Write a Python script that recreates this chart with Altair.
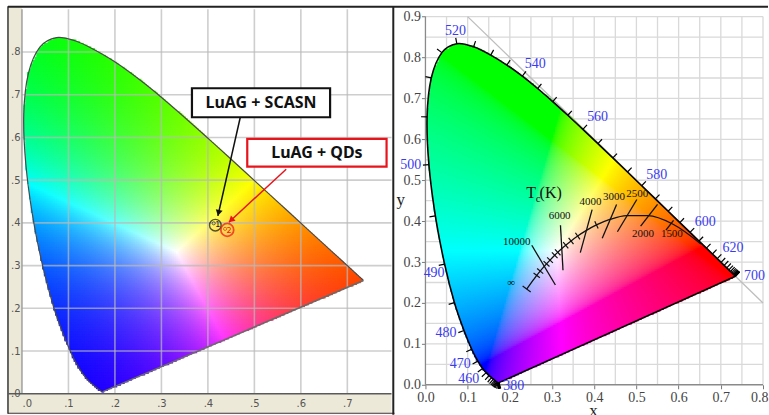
import numpy as np
import pandas as pd
import altair as alt

# ---------------------------------------------------------------- data
# CIE 1931 2-degree spectral locus, 5 nm steps
wavelength = list(range(380, 705, 5))
locus_x = [0.1741, 0.1740, 0.1738, 0.1736, 0.1733, 0.1730, 0.1726, 0.1721, 0.1714, 0.1703,
           0.1689, 0.1669, 0.1644, 0.1611, 0.1566, 0.1510, 0.1440, 0.1355, 0.1241, 0.1096,
           0.0913, 0.0687, 0.0454, 0.0235, 0.0082, 0.0039, 0.0139, 0.0389, 0.0743, 0.1142,
           0.1547, 0.1929, 0.2296, 0.2658, 0.3016, 0.3373, 0.3731, 0.4087, 0.4441, 0.4788,
           0.5125, 0.5448, 0.5752, 0.6029, 0.6270, 0.6482, 0.6658, 0.6801, 0.6915, 0.7006,
           0.7079, 0.7140, 0.7190, 0.7230, 0.7260, 0.7283, 0.7300, 0.7311, 0.7320, 0.7327,
           0.7334, 0.7340, 0.7344, 0.7346, 0.7347]
locus_y = [0.0050, 0.0050, 0.0049, 0.0049, 0.0048, 0.0048, 0.0048, 0.0048, 0.0051, 0.0058,
           0.0069, 0.0086, 0.0109, 0.0138, 0.0177, 0.0227, 0.0297, 0.0399, 0.0578, 0.0868,
           0.1327, 0.2007, 0.2950, 0.4127, 0.5384, 0.6548, 0.7502, 0.8120, 0.8338, 0.8262,
           0.8059, 0.7816, 0.7543, 0.7243, 0.6923, 0.6589, 0.6245, 0.5896, 0.5547, 0.5202,
           0.4866, 0.4544, 0.4242, 0.3965, 0.3725, 0.3514, 0.3340, 0.3197, 0.3083, 0.2993,
           0.2920, 0.2859, 0.2809, 0.2770, 0.2740, 0.2717, 0.2700, 0.2689, 0.2680, 0.2673,
           0.2666, 0.2660, 0.2656, 0.2654, 0.2653]

# labelled wavelengths on the right diagram
wl_label = ["380", "460", "470", "480", "490", "500", "520", "540", "560", "580", "600", "620", "700"]
wl_label_x = [0.209, 0.1025, 0.0824, 0.0488, 0.0205, -0.035, 0.0714, 0.260, 0.408, 0.548, 0.663, 0.729, 0.780]
wl_label_y = [-0.002, 0.0146, 0.0505, 0.126, 0.274, 0.537, 0.866, 0.783, 0.654, 0.512, 0.398, 0.335, 0.266]

# Planckian locus (K, x, y); the last point is T = infinity
planck_T = [1000, 1500, 2000, 2500, 3000, 3500, 4000, 4500, 5000, 5500, 6000, 6500, 7000,
            8000, 9000, 10000, 12000, 15000, 20000, 100000]
planck_x = [0.6528, 0.5857, 0.5267, 0.4770, 0.4369, 0.4053, 0.3805, 0.3608, 0.3451, 0.3325,
            0.3221, 0.3135, 0.3064, 0.2952, 0.2869, 0.2807, 0.2719, 0.2637, 0.2565, 0.2399]
planck_y = [0.3444, 0.3931, 0.4133, 0.4137, 0.4041, 0.3907, 0.3768, 0.3636, 0.3516, 0.3411,
            0.3318, 0.3237, 0.3166, 0.3048, 0.2956, 0.2884, 0.2779, 0.2674, 0.2574, 0.2340]
minor_T = [3500, 4500, 5000, 5500, 6500, 7000, 8000, 9000, 12000, 15000]

# isotherms crossing the Planckian locus
iso_label = ["10000", "6000", "4000", "3000", "2500", "2000", "1500"]
iso_x1 = [0.252, 0.320, 0.395, 0.453, 0.501, 0.550, 0.588]
iso_y1 = [0.341, 0.390, 0.428, 0.441, 0.453, 0.441, 0.402]
iso_x2 = [0.308, 0.326, 0.367, 0.419, 0.455, 0.510, 0.570]
iso_y2 = [0.244, 0.280, 0.323, 0.358, 0.374, 0.388, 0.378]
iso_text_x = [0.2164, 0.318, 0.391, 0.4468, 0.502, 0.5157, 0.584]
iso_text_y = [0.3495, 0.412, 0.4456, 0.459, 0.4675, 0.3675, 0.3675]

# measured white LEDs
sample_id = ["1", "2"]
sample_name = ["LuAG + SCASN", "LuAG + QDs"]
sample_x = [0.4125, 0.4370]
sample_y = [0.3990, 0.3860]
sample_color = ["#111111", "#e8141c"]

# ---------------------------------------------------------------- layout
LW, LH = 370, 385
LXD, LYD = [0, 0.795], [0, 0.9]
RW, RH = 338, 376
RXD, RYD = [0, 0.8], [0, 0.918]
lsx, lsy = LW / LXD[1], LH / LYD[1]
rsx, rsy = RW / RXD[1], RH / RYD[1]

SERIF = "Liberation Serif"
BLUE = "#3a3af0"


def inside(px, py, vx, vy):
    vx = np.asarray(vx)
    vy = np.asarray(vy)
    res = np.zeros(px.shape, dtype=bool)
    for i in range(len(vx)):
        j = i - 1
        xi, yi, xj, yj = vx[i], vy[i], vx[j], vy[j]
        if yi == yj:
            continue
        cross = (yi > py) != (yj > py)
        xint = xi + (py - yi) * (xj - xi) / (yj - yi)
        res ^= cross & (px < xint)
    return res


def to_hex(v):
    v = np.clip(np.round(v * 255), 0, 255).astype(int)
    return ["#%02x%02x%02x" % tuple(c) for c in v]


def tone_left(x, y):
    v = np.stack([x, y, 1 - x - y], axis=1)
    v = np.clip(v, 0, None)
    v = v / v.max(axis=1, keepdims=True)
    return to_hex(v ** 1.3)


M = np.array([[3.2406, -1.5372, -0.4986],
              [-0.9689, 1.8758, 0.0415],
              [0.0557, -0.2040, 1.0570]])


def tone_right(x, y):
    xyz = np.stack([x / y, np.ones_like(x), (1 - x - y) / y], axis=1)
    rgb = np.clip(xyz @ M.T, 0, None)
    rgb = rgb / rgb.max(axis=1, keepdims=True)
    rgb = np.where(rgb <= 0.0031308, 12.92 * rgb, 1.055 * rgb ** (1 / 2.4) - 0.055)
    return to_hex(rgb)


def cell_table(step, tone):
    gx, gy = np.meshgrid(np.arange(step / 2, 0.76, step), np.arange(step / 2, 0.85, step))
    gx, gy = gx.ravel(), gy.ravel()
    keep = inside(gx, gy, locus_x, locus_y)
    gx, gy = gx[keep], gy[keep]
    return pd.DataFrame({"x": np.round(gx, 4), "y": np.round(gy, 4), "c": tone(gx, gy)})


one = pd.DataFrame({"k": [0]})


def px_rect(x1, x2, y1, y2, color):
    return alt.Chart(one).mark_rect(color=color, clip=False).encode(
        x=alt.value(x1), x2=alt.value(x2), y=alt.value(y1), y2=alt.value(y2))


def px_rule(x1, x2, y1, y2, color, w):
    return alt.Chart(one).mark_rule(color=color, strokeWidth=w, clip=False).encode(
        x=alt.value(x1), x2=alt.value(x2), y=alt.value(y1), y2=alt.value(y2))


locus_df = pd.DataFrame({"wl": wavelength, "x": locus_x, "y": locus_y, "o": range(len(wavelength))})
purple_df = pd.DataFrame({"x": [locus_x[0]], "y": [locus_y[0]], "x2": [locus_x[-1]], "y2": [locus_y[-1]]})

# ================================================================ left panel
lab_expr = "replace(format(datum.value, '.1f'), '0.', '.')"
left_xaxis = alt.Axis(values=[i / 10 for i in range(8)], labelExpr=lab_expr, ticks=False, grid=False,
                      domain=False, labelFont="DejaVu Sans", labelFontSize=10, labelColor="#555555",
                      labelPadding=5, title=None, zindex=2)
left_yaxis_spec = alt.Axis(values=[i / 10 for i in range(9)], labelExpr=lab_expr, ticks=False, grid=False,
                           domain=False, labelFont="DejaVu Sans", labelFontSize=10, labelColor="#555555",
                           labelPadding=2, title=None, zindex=2)


def LX(f="x"):
    return alt.X(f"{f}:Q", scale=alt.Scale(domain=LXD, nice=False, zero=False), axis=left_xaxis)


def LY(f="y"):
    return alt.Y(f"{f}:Q", scale=alt.Scale(domain=LYD, nice=False, zero=False), axis=left_yaxis_spec)


left_cells = cell_table(0.004, tone_left)
cell_side = max(0.004 * lsx, 0.004 * lsy) + 0.9
left_fill = alt.Chart(left_cells).mark_square(size=cell_side ** 2, opacity=1, strokeWidth=0).encode(
    x=LX(), y=LY(), color=alt.Color("c:N", scale=None))

lgrid_x = pd.DataFrame({"g": [i / 10 for i in range(1, 8)]})
lgrid_y = pd.DataFrame({"g": [i / 10 for i in range(1, 9)]})
left_vgrid = alt.Chart(lgrid_x).mark_rule(color="#b9b9b9", opacity=0.7, strokeWidth=1.6).encode(x=LX("g"))
left_hgrid = alt.Chart(lgrid_y).mark_rule(color="#b9b9b9", opacity=0.7, strokeWidth=1.6).encode(y=LY("g"))
left_axis0 = alt.Chart(pd.DataFrame({"g": [0.0]})).mark_rule(color="#9a9a9a", strokeWidth=1.4).encode(x=LX("g"))

left_outline = alt.Chart(locus_df).mark_line(color="#4a4a4a", strokeWidth=1.2, interpolate="cardinal").encode(
    x=LX(), y=LY(), order="o:Q")
left_purple = alt.Chart(purple_df).mark_rule(color="#6a6a6a", strokeWidth=1.6).encode(
    x=LX(), y=LY(), x2="x2", y2="y2")

samples = pd.DataFrame({"id": sample_id, "x": sample_x, "y": sample_y, "col": sample_color})
dots = alt.Chart(samples).mark_point(shape="circle", size=10, strokeWidth=0.9, filled=False).encode(
    x=LX(), y=LY(), color=alt.Color("col:N", scale=None))
ring_df = pd.DataFrame({"x": [0.4160, 0.4417], "y": [0.3946, 0.3836], "col": sample_color,
                        "s": [135, 165], "w": [1.4, 1.8]})
rings = alt.Chart(ring_df).mark_point(shape="circle", filled=False).encode(
    x=LX(), y=LY(), color=alt.Color("col:N", scale=None),
    size=alt.Size("s:Q", scale=None), strokeWidth=alt.StrokeWidth("w:Q", scale=None))
dot_ids = alt.Chart(samples).mark_text(fontSize=8, dx=4, dy=2, font="DejaVu Sans").encode(
    x=LX(), y=LY(), text="id:N", color=alt.Color("col:N", scale=None))

# callouts: box extents, label centres and arrow start/end
box_x1 = [0.3657, 0.4847]
box_x2 = [0.6629, 0.7844]
box_y1 = [0.6472, 0.5317]
box_y2 = [0.7151, 0.5965]
arrow_x1 = [0.4697, 0.5684]
arrow_y1 = [0.6472, 0.5256]
arrow_x2 = [0.4215, 0.4451]
arrow_y2 = [0.4164, 0.4016]

heads = []
for i in range(2):
    dxp = (arrow_x2[i] - arrow_x1[i]) * lsx
    dyp = -(arrow_y2[i] - arrow_y1[i]) * lsy
    n = np.hypot(dxp, dyp)
    ux, uy = dxp / n, dyp / n
    ang = (np.degrees(np.arctan2(ux, -uy)) + 360) % 360
    back = 3.0
    heads.append({"x": arrow_x2[i] - ux * back / lsx, "y": arrow_y2[i] + uy * back / lsy,
                  "a": ang, "col": sample_color[i]})
heads = pd.DataFrame(heads)
arrows = pd.DataFrame({"x": arrow_x1, "y": arrow_y1, "x2": arrow_x2, "y2": arrow_y2, "col": sample_color})
arrow_lines = alt.Chart(arrows).mark_rule(strokeWidth=1.5).encode(
    x=LX(), y=LY(), x2="x2", y2="y2", color=alt.Color("col:N", scale=None))
arrow_heads = alt.Chart(heads).mark_point(shape="triangle-up", size=48, filled=True, opacity=1).encode(
    x=LX(), y=LY(), angle=alt.Angle("a:Q", scale=None), color=alt.Color("col:N", scale=None))

boxes = pd.DataFrame({"x": box_x1, "x2": box_x2, "y": box_y1, "y2": box_y2, "col": sample_color,
                      "name": sample_name,
                      "cx": [(a + b) / 2 for a, b in zip(box_x1, box_x2)],
                      "cy": [(a + b) / 2 for a, b in zip(box_y1, box_y2)]})
box_marks = alt.Chart(boxes).mark_rect(fill="white", strokeWidth=2.2, clip=False).encode(
    x=LX(), x2="x2", y=LY(), y2="y2", stroke=alt.Stroke("col:N", scale=None))
box_text = alt.Chart(boxes).mark_text(font="Noto Sans", fontWeight="bold", fontSize=16, color="#111111",
                                      clip=False).encode(
    x=LX("cx"), y=LY("cy"), text="name:N")

left = alt.layer(
    px_rect(-22, 0, -9, 0, "white"),
    px_rect(-13, 0, -2, 404, "#ece9d8"),
    px_rect(-13, LW, LH, 404, "#ece9d8"),
    left_fill, left_vgrid, left_hgrid, left_axis0,
    left_outline, left_purple,
    rings, dots, dot_ids, arrow_lines, arrow_heads, box_marks, box_text,
    px_rule(-14, -14, -3, 405, "#333333", 1.5),
    px_rule(-14, LW, LH, LH, "#5a5a5a", 1.4),
    px_rule(-14, LW + 3, 404.5, 404.5, "#333333", 1.2),
    px_rule(-14, 747, -2.5, -2.5, "#222222", 1.8),
    px_rule(LW + 1.8, LW + 1.8, -3, 406, "#222222", 2),
).properties(width=LW, height=LH)

# ================================================================ right panel
right_xaxis = alt.Axis(values=[i / 10 for i in range(9)], format=".1f", grid=False, domain=False,
                       tickSize=4, tickColor="#777777", labelFont=SERIF, labelFontSize=14,
                       labelColor="#444444", labelPadding=2, title=None,
                       labelAlign={"condition": {"test": "datum.value > 0.79", "value": "right"},
                                   "value": "center"},
                       labelOffset={"condition": {"test": "datum.value > 0.79", "value": 5}, "value": 0})
right_yaxis = alt.Axis(values=[i / 10 for i in range(10)], format=".1f", grid=False, domain=False,
                       tickSize=4, tickColor="#777777", labelFont=SERIF, labelFontSize=14,
                       labelColor="#444444", labelPadding=1, title=None)


def RX(f="x"):
    return alt.X(f"{f}:Q", scale=alt.Scale(domain=RXD, nice=False, zero=False), axis=right_xaxis)


def RY(f="y"):
    return alt.Y(f"{f}:Q", scale=alt.Scale(domain=RYD, nice=False, zero=False), axis=right_yaxis)


rgrid_x = pd.DataFrame({"g": [round(i * 0.05, 2) for i in range(1, 17)], "y": 0.0, "y2": 0.9})
rgrid_y = pd.DataFrame({"g": [round(i * 0.05, 2) for i in range(1, 19)], "x": 0.0, "x2": 0.8})
right_vgrid = alt.Chart(rgrid_x).mark_rule(color="#d9d9d9", strokeWidth=1.3).encode(
    x=RX("g"), y=RY("y"), y2="y2")
right_hgrid = alt.Chart(rgrid_y).mark_rule(color="#d9d9d9", strokeWidth=1.3).encode(
    y=RY("g"), x=RX("x"), x2="x2")
diag = pd.DataFrame({"x": [0.1], "y": [0.9], "x2": [0.8], "y2": [0.2]})
right_diag = alt.Chart(diag).mark_rule(color="#bdbdbd", strokeWidth=1.3).encode(
    x=RX(), y=RY(), x2="x2", y2="y2")
right_axes = pd.DataFrame({"x": [0.0, 0.0], "y": [0.0, 0.0], "x2": [0.0, 0.8], "y2": [0.9, 0.0]})
right_axis_lines = alt.Chart(right_axes).mark_rule(color="#8a8a8a", strokeWidth=1.3).encode(
    x=RX(), y=RY(), x2="x2", y2="y2")

right_cells = cell_table(0.004, tone_right)
rcell_side = max(0.004 * rsx, 0.004 * rsy) + 0.9
right_fill = alt.Chart(right_cells).mark_square(size=rcell_side ** 2, opacity=1, strokeWidth=0).encode(
    x=RX(), y=RY(), color=alt.Color("c:N", scale=None))

right_outline = alt.Chart(locus_df).mark_line(color="black", strokeWidth=1.6, interpolate="cardinal").encode(
    x=RX(), y=RY(), order="o:Q")
right_purple = alt.Chart(purple_df).mark_rule(color="black", strokeWidth=1.4).encode(
    x=RX(), y=RY(), x2="x2", y2="y2")

# outward tick marks every 5 nm along the spectral locus
pxs = np.array(locus_x) * rsx
pys = np.array(locus_y) * rsy
tx, ty = np.gradient(pxs), np.gradient(pys)
nrm = np.hypot(tx, ty) + 1e-9
nx, ny = ty / nrm, -tx / nrm
sgn = np.sign((pxs - 0.33 * rsx) * nx + (pys - 0.33 * rsy) * ny)
nx, ny = nx * sgn, ny * sgn
tick_len = 6.0
wl_ticks = pd.DataFrame({"x": locus_x, "y": locus_y,
                         "x2": np.array(locus_x) + nx * tick_len / rsx,
                         "y2": np.array(locus_y) + ny * tick_len / rsy})
right_ticks = alt.Chart(wl_ticks).mark_rule(color="black", strokeWidth=1.2).encode(
    x=RX(), y=RY(), x2="x2", y2="y2")

wl_text = pd.DataFrame({"t": wl_label, "x": wl_label_x, "y": wl_label_y})
right_wl = alt.Chart(wl_text).mark_text(font=SERIF, fontSize=14, color=BLUE, clip=False).encode(
    x=RX(), y=RY(), text="t:N")

planck_df = pd.DataFrame({"x": planck_x, "y": planck_y})
planck_line = alt.Chart(planck_df).mark_line(color="#111111", strokeWidth=1.3, interpolate="monotone").encode(
    x=RX(), y=RY())

iso_df = pd.DataFrame({"x": iso_x1, "y": iso_y1, "x2": iso_x2, "y2": iso_y2})
iso_lines = alt.Chart(iso_df).mark_rule(color="#111111", strokeWidth=1.3).encode(
    x=RX(), y=RY(), x2="x2", y2="y2")

# short cross ticks on the Planckian locus and the bar closing it at T = infinity
ppx, ppy = np.array(planck_x) * rsx, np.array(planck_y) * rsy
gtx, gty = np.gradient(ppx), np.gradient(ppy)
gn = np.hypot(gtx, gty)
pnx, pny = gty / gn, -gtx / gn
rows = []
for T, hl in [(t, 4.0) for t in minor_T] + [(100000, 5.0)]:
    k = planck_T.index(T)
    rows.append({"x": planck_x[k] - pnx[k] * hl / rsx, "y": planck_y[k] - pny[k] * hl / rsy,
                 "x2": planck_x[k] + pnx[k] * hl / rsx, "y2": planck_y[k] + pny[k] * hl / rsy})
minor_df = pd.DataFrame(rows)
minor_ticks = alt.Chart(minor_df).mark_rule(color="#111111", strokeWidth=1.2).encode(
    x=RX(), y=RY(), x2="x2", y2="y2")

iso_txt = pd.DataFrame({"t": iso_label + ["\u221e"], "x": iso_text_x + [0.203], "y": iso_text_y + [0.248]})
iso_text = alt.Chart(iso_txt).mark_text(font=SERIF, fontSize=11, color="#111111").encode(
    x=RX(), y=RY(), text="t:N")

tc_df = pd.DataFrame({"t": ["T", "c", "(K)"], "x": [0.239, 0.2615, 0.2705], "y": [0.4558, 0.4475, 0.4558],
                      "s": [16, 11, 16]})
tc_text = alt.Chart(tc_df).mark_text(font=SERIF, color="#111111", align="left", baseline="alphabetic").encode(
    x=RX(), y=RY(), text="t:N", size=alt.Size("s:Q", scale=None))

titles = pd.DataFrame({"t": ["y", "x"], "x": [-0.0585, 0.398], "y": [0.4517, -0.0757]})
title_y = alt.Chart(titles.iloc[[0]]).mark_text(font=SERIF, fontSize=17, color="#222222", clip=False).encode(
    x=RX(), y=RY(), text="t:N")
title_x = alt.Chart(titles.iloc[[1]]).mark_text(font=SERIF, fontSize=17, color="#222222",
                                                baseline="alphabetic", clip=False).encode(
    x=RX(), y=RY(), text="t:N")

right = alt.layer(
    right_vgrid, right_hgrid, right_diag, right_fill, right_axis_lines,
    right_outline, right_purple, right_ticks, right_wl,
    planck_line, iso_lines, minor_ticks, iso_text, tc_text, title_y, title_x,
).properties(width=RW, height=RH)

chart = alt.hconcat(left, right, spacing=34, bounds="flush").configure(
    background="white", padding=0
).configure_view(stroke=None)

chart.save("out.html", embed_options={"renderer": "svg", "actions": False})
